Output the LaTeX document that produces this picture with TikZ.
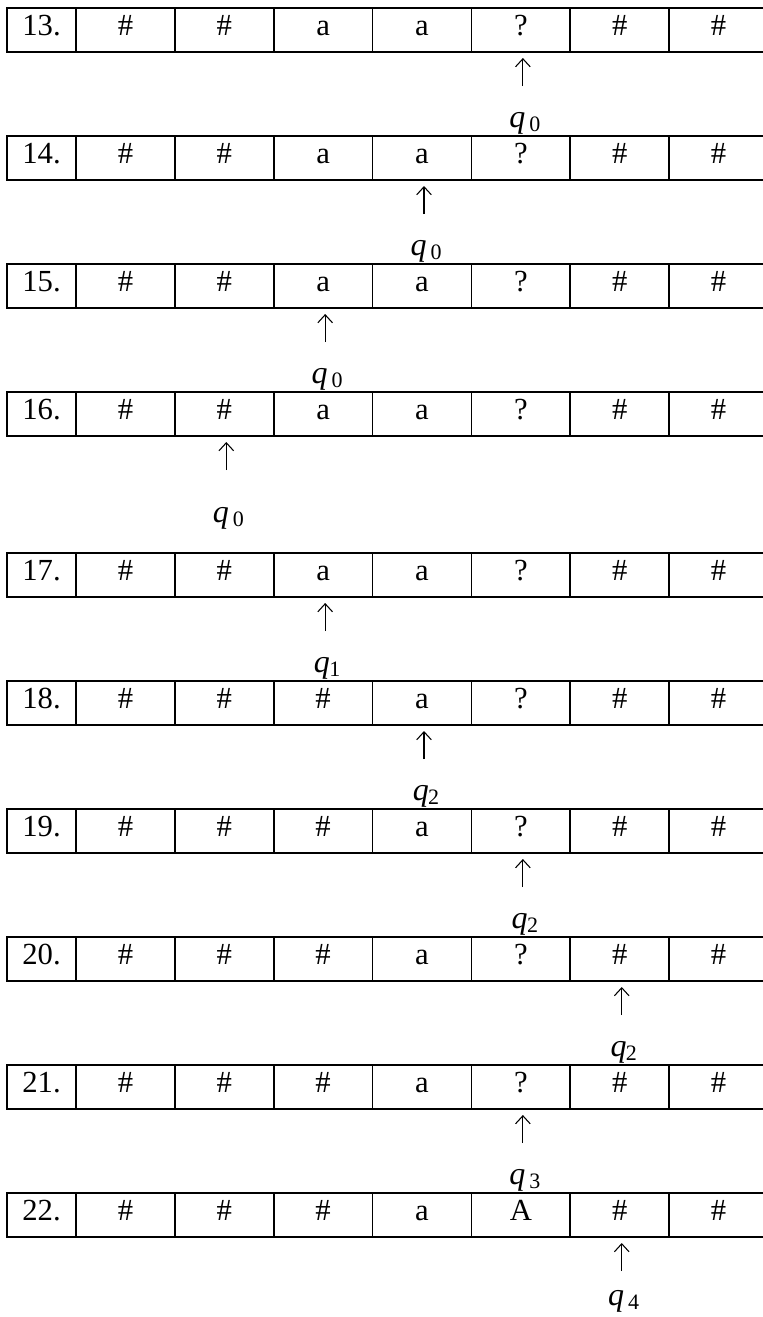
\documentclass[tikz,border=0pt]{standalone}
\usepackage{fontspec}
\setmainfont{Liberation Serif}
\usetikzlibrary{arrows.meta,calc}
% q label with spaced subscript and with tight subscript
\newcommand\qsp[1]{\textit{q}\kern3pt\raisebox{-3.5pt}{\fontsize{16.5}{16.5}\selectfont #1}}
\newcommand\qti[1]{\textit{q}\kern-0.5pt\raisebox{-3.5pt}{\fontsize{16.5}{16.5}\selectfont #1}}
% one tape row: name, top y (px), number, seven symbols
\newcommand\tmrow[4]{%
  \node[numcell] (#1n) at (41.5,{#2+22}) {#3};
  \foreach \s [count=\i] in {#4} {
    \node[cell] (#1c\i) at ({76+98.86*(\i-0.5)},{#2+22}) {\s};
  }%
}
% head pointer: row name, cell index, label, label drop (px)
\newcommand\tmhead[4]{%
  \coordinate (#1tip) at ($(#1c#2.south)+(2,6)$);
  \coordinate (#1tail) at ($(#1c#2.south)+(2,34)$);
  \draw[headarrow] (#1tail) -- (#1tip);
  \node[qlab] (#1q) at ($(#1c#2.south)+(4,#4)$) {#3};
}
\begin{document}
\begin{tikzpicture}[x=0.75pt,y=-0.75pt,
  cell/.style={draw, line width=1.3pt, minimum width=74.14pt, minimum height=33pt,
    inner sep=0pt, outer sep=0pt, text height=10.5pt, text depth=2.5pt,
    font=\fontsize{23}{26}\selectfont},
  numcell/.style={cell, minimum width=51.75pt},
  headarrow/.style={line width=0.8pt, -{Straight Barb[length=6pt,width=11pt,line width=0.8pt]}},
  qlab/.style={anchor=north, inner sep=0pt, outer sep=0pt, font=\fontsize{24}{26}\selectfont}]
\useasboundingbox (0,0) rectangle (763,1317);

\tmrow{r13}{8}{13.}{\#,\#,a,a,?,\#,\#}
\tmhead{r13}{5}{\qsp{0}}{60}

\tmrow{r14}{136}{14.}{\#,\#,a,a,?,\#,\#}
\tmhead{r14}{4}{\qsp{0}}{60}

\tmrow{r15}{264}{15.}{\#,\#,a,a,?,\#,\#}
\tmhead{r15}{3}{\qsp{0}}{60}

\tmrow{r16}{392}{16.}{\#,\#,a,a,?,\#,\#}
\tmhead{r16}{2}{\qsp{0}}{71}

\tmrow{r17}{553}{17.}{\#,\#,a,a,?,\#,\#}
\tmhead{r17}{3}{\qti{1}}{60}

\tmrow{r18}{681}{18.}{\#,\#,\#,a,?,\#,\#}
\tmhead{r18}{4}{\qti{2}}{60}

\tmrow{r19}{809}{19.}{\#,\#,\#,a,?,\#,\#}
\tmhead{r19}{5}{\qti{2}}{60}

\tmrow{r20}{937}{20.}{\#,\#,\#,a,?,\#,\#}
\tmhead{r20}{6}{\qti{2}}{60}

\tmrow{r21}{1065}{21.}{\#,\#,\#,a,?,\#,\#}
\tmhead{r21}{5}{\qsp{3}}{60}

\tmrow{r22}{1193}{22.}{\#,\#,\#,a,A,\#,\#}
\tmhead{r22}{6}{\qsp{4}}{53}
\end{tikzpicture}
\end{document}
